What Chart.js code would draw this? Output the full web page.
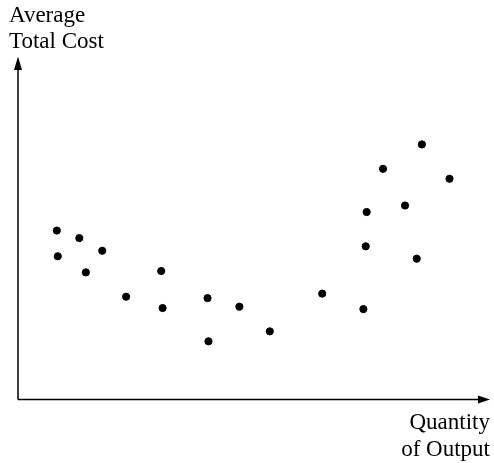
<!DOCTYPE html>
<html>
<head>
    <meta charset="UTF-8">
    <title>Average Total Cost</title>
    <style>
        html, body {
            margin: 0;
            padding: 0;
            background: #ffffff;
        }
        #wrap {
            width: 494px;
            height: 463px;
        }
    </style>
    <script src="https://cdn.jsdelivr.net/npm/chart.js@4.4.0/dist/chart.umd.min.js"></script>
</head>
<body>
<div id="wrap"><canvas id="scatter-chart" width="494" height="463"></canvas></div>
<script>
    // quantity of output (x) and average total cost (y), arbitrary units 0-100
    var quantity = [8.3, 13.1, 8.5, 18.0, 14.5, 30.6, 23.1, 30.9, 40.5, 47.3, 40.7,
                    53.8, 65.0, 73.8, 74.3, 74.5, 78.0, 82.7, 85.2, 86.3, 92.2];
    var avgCost  = [49.7, 47.5, 42.2, 43.8, 37.5, 37.9, 30.4, 27.1, 30.0, 27.5, 17.4,
                    20.3, 31.3, 26.8, 45.1, 55.1, 67.7, 57.0, 41.5, 74.8, 64.8];
    var yLabel = ['Average', 'Total Cost'];
    var xLabel = ['Quantity', 'of Output'];

    var points = [];
    for (var i = 0; i < quantity.length; i++) {
        points.push({ x: quantity[i], y: avgCost[i] });
    }

    // axes with arrow heads and the two labels
    var axesPlugin = {
        id: 'axesArrows',
        afterDraw: function(chart) {
            var ctx = chart.ctx;
            var a = chart.chartArea;
            var yAx = a.bottom - 1.5;
            ctx.save();
            ctx.strokeStyle = '#000';
            ctx.fillStyle = '#000';
            ctx.lineWidth = 1.5;

            ctx.beginPath();
            ctx.moveTo(a.left, yAx);
            ctx.lineTo(a.left, a.top + 8);
            ctx.moveTo(a.left, yAx);
            ctx.lineTo(a.right - 4, yAx);
            ctx.stroke();

            // y arrow
            ctx.beginPath();
            ctx.moveTo(a.left, a.top - 1.5);
            ctx.lineTo(a.left - 4, a.top + 12);
            ctx.lineTo(a.left + 4, a.top + 12);
            ctx.closePath();
            ctx.fill();

            // x arrow
            ctx.beginPath();
            ctx.moveTo(a.right + 4, yAx);
            ctx.lineTo(a.right - 8, yAx - 4);
            ctx.lineTo(a.right - 8, yAx + 4);
            ctx.closePath();
            ctx.fill();

            ctx.font = '23px "Liberation Serif", "DejaVu Serif", serif';
            ctx.textBaseline = 'alphabetic';
            ctx.textAlign = 'left';
            ctx.fillText(yLabel[0], 9, 22);
            ctx.fillText(yLabel[1], 9, 48);

            ctx.textAlign = 'right';
            ctx.fillText(xLabel[0], 490, 429);
            ctx.fillText(xLabel[1], 490, 456);
            ctx.restore();
        }
    };

    var ctx = document.getElementById('scatter-chart').getContext('2d');
    var chart = new Chart(ctx, {
        type: 'scatter',
        data: {
            datasets: [{
                label: 'ATC',
                data: points,
                backgroundColor: '#000',
                borderColor: '#000',
                pointRadius: 3.6,
                pointHoverRadius: 3.6
            }]
        },
        options: {
            responsive: false,
            animation: false,
            layout: {
                padding: { left: 18, right: 8, top: 58, bottom: 62 }
            },
            plugins: {
                legend: { display: false },
                tooltip: { enabled: false }
            },
            scales: {
                x: { display: false, min: 0, max: 100 },
                y: { display: false, min: 0, max: 100 }
            }
        },
        plugins: [axesPlugin]
    });
</script>
</body>
</html>
